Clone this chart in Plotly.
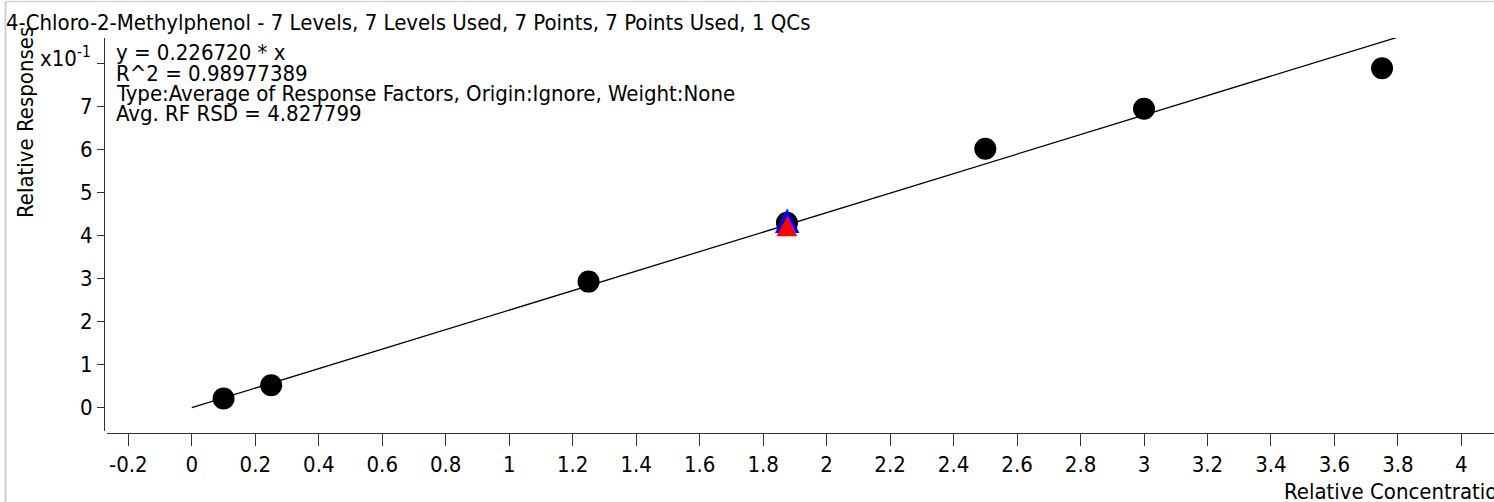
import plotly.graph_objects as go

# ---- data ----
conc = [0.1, 0.25, 1.25, 1.875, 2.5, 3.0, 3.75]
resp = [0.021, 0.052, 0.293, 0.430, 0.602, 0.695, 0.789]
qc_conc = [1.875]
qc_expected = [0.435]
qc_resp = [0.422]
slope = 0.226720
fit_x = [0.0, 3.8]

x_ticks = [-0.2, 0, 0.2, 0.4, 0.6, 0.8, 1, 1.2, 1.4, 1.6, 1.8, 2, 2.2, 2.4, 2.6, 2.8,
           3, 3.2, 3.4, 3.6, 3.8, 4]
x_labels = ["-0.2", "0", "0.2", "0.4", "0.6", "0.8", "1", "1.2", "1.4", "1.6", "1.8", "2",
            "2.2", "2.4", "2.6", "2.8", "3", "3.2", "3.4", "3.6", "3.8", "4"]
y_ticks = [0, 0.1, 0.2, 0.3, 0.4, 0.5, 0.6, 0.7, 0.8]
y_labels = ["0", "1", "2", "3", "4", "5", "6", "7", ""]

title = "4-Chloro-2-Methylphenol - 7 Levels, 7 Levels Used, 7 Points, 7 Points Used, 1 QCs"
eq_lines = ["y = 0.226720 * x",
            "R^2 = 0.98977389",
            "Type:Average of Response Factors, Origin:Ignore, Weight:None",
            "Avg. RF RSD = 4.827799"]

FONT = "DejaVu Sans Condensed, DejaVu Sans, sans-serif"
FS = 22

W, H = 1494, 502
ML, MR, MT, MB = 104, 0, 38, 69
PW, PH = W - ML - MR, H - MT - MB


def px_x(p):
    return (p - ML) / PW


def px_y(p):
    return (H - MB - p) / PH


fig = go.Figure()
fig.add_trace(go.Scatter(x=fit_x, y=[slope * v for v in fit_x], mode="lines",
                         line=dict(color="black", width=1.3), hoverinfo="skip"))
fig.add_trace(go.Scatter(x=conc, y=resp, mode="markers",
                         marker=dict(color="black", size=22, line=dict(width=0))))
fig.add_trace(go.Scatter(x=qc_conc, y=qc_expected, mode="text", text=["\u25b2"],
                         textposition="middle center",
                         textfont=dict(family="DejaVu Sans", size=32, color="blue")))
fig.add_trace(go.Scatter(x=qc_conc, y=qc_resp, mode="text", text=["\u25b2"],
                         textposition="middle center",
                         textfont=dict(family="DejaVu Sans", size=27, color="red")))

annotations = [
    dict(text=title, xref="paper", yref="paper", x=px_x(4), y=px_y(22.5),
         xanchor="left", yanchor="middle", showarrow=False),
    dict(text="x10<sup>-1</sup>", xref="paper", yref="paper", x=px_x(93), y=px_y(57),
         xanchor="right", yanchor="middle", showarrow=False),
    dict(text="Relative Responses", xref="paper", yref="paper", x=px_x(25.5), y=px_y(122.5),
         xanchor="center", yanchor="middle", textangle=-90, showarrow=False),
    dict(text="Relative Concentration", xref="paper", yref="paper", x=px_x(1282), y=px_y(492),
         xanchor="left", yanchor="middle", showarrow=False),
]
for i, line in enumerate(eq_lines):
    annotations.append(dict(text=line, xref="paper", yref="paper", x=px_x(114),
                            y=px_y(53 + 20.3 * i), xanchor="left", yanchor="middle",
                            showarrow=False))

shapes = [
    dict(type="line", xref="paper", yref="paper", x0=px_x(5.5), x1=px_x(5.5),
         y0=px_y(1.5), y1=px_y(H + 5), line=dict(color="#d0d0d0", width=2)),
    dict(type="line", xref="paper", yref="paper", x0=px_x(5.5), x1=1.01,
         y0=px_y(1.5), y1=px_y(1.5), line=dict(color="#d8d8d8", width=1.5)),
]

fig.update_layout(
    width=W, height=H,
    margin=dict(l=ML, r=MR, t=MT, b=MB, pad=0),
    paper_bgcolor="white", plot_bgcolor="white",
    showlegend=False,
    font=dict(family=FONT, size=FS, color="black"),
    annotations=annotations,
    shapes=shapes,
    xaxis=dict(domain=[3 / PW, 1], anchor="free", position=0,
               range=[-0.2672, 4.1027], tickmode="array", tickvals=x_ticks, ticktext=x_labels,
               ticks="outside", ticklen=12, tickcolor="#333", tickwidth=1,
               showline=True, linecolor="#333", linewidth=1,
               showgrid=False, zeroline=False, tickfont=dict(size=FS)),
    yaxis=dict(domain=[2 / PH, 1], anchor="free", position=0,
               range=[-0.0544, 0.8595], tickmode="array", tickvals=y_ticks, ticktext=y_labels,
               ticks="outside", ticklen=7, tickcolor="#333", tickwidth=1,
               showline=True, linecolor="#333", linewidth=1,
               showgrid=False, zeroline=False, tickfont=dict(size=FS)),
)

fig.write_html("out.html", config={"displayModeBar": False},
               post_script="document.body.style.margin='0';document.body.style.overflow='hidden';")
